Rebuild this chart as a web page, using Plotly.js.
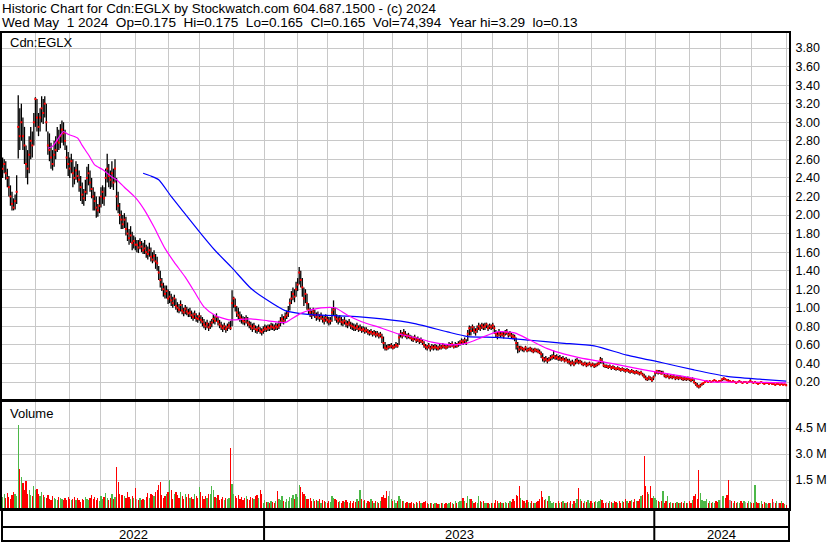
<!DOCTYPE html>
<html><head><meta charset="utf-8">
<script src="https://cdn.plot.ly/plotly-3.0.1.min.js"></script>
<style>html,body{margin:0;padding:0;background:#fff}#chart{width:830px;height:543px}</style>
</head><body><div id="chart"></div>
<script>
// Trading days per month: May 2022 .. May 2024
const monthDays = [21,22,20,22,21,20,22,20, 21,19,23,19,22,22,20,22,20,21,22,19, 22,20,20,22,1];
const yearLabels = ['2022','2023','2024'];
const yearMonthCounts = [8,12,5];

const high = [
2.62,2.60,2.58,2.50,2.42,2.32,2.25,2.18,2.22,2.43,
3.29,3.15,3.20,3.05,2.95,2.75,2.70,2.85,2.95,2.90,
3.10,3.27,3.25,3.10,3.15,3.28,3.25,3.28,3.20,2.90,
2.88,2.78,2.70,2.80,2.85,2.95,2.92,2.98,3.02,3.00,
2.92,2.75,2.68,2.62,2.66,2.60,2.52,2.58,2.55,2.48,
2.42,2.35,2.28,2.38,2.52,2.55,2.48,2.40,2.30,2.25,
2.20,2.12,2.20,2.30,2.32,2.30,2.50,2.66,2.55,2.48,
2.58,2.50,2.60,2.40,2.25,2.13,2.05,2.00,2.02,1.98,
1.92,1.85,1.88,1.82,1.78,1.76,1.73,1.73,1.75,1.72,
1.70,1.73,1.68,1.66,1.70,1.65,1.60,1.62,1.58,1.55,
1.45,1.40,1.32,1.27,1.24,1.24,1.20,1.18,1.15,1.12,
1.14,1.10,1.06,1.04,1.08,1.04,1.00,1.03,1.01,0.99,
1.00,0.97,0.95,0.97,0.94,0.92,0.95,0.92,0.90,0.88,
0.85,0.87,0.84,0.86,0.88,0.93,0.91,0.94,0.90,0.87,
0.85,0.82,0.84,0.81,0.83,0.85,0.86,1.19,1.12,1.10,
1.02,1.00,0.96,0.93,0.91,0.90,0.92,0.90,0.86,0.85,
0.83,0.84,0.81,0.80,0.82,0.79,0.78,0.80,0.82,0.81,
0.82,0.82,0.84,0.83,0.82,0.84,0.83,0.86,0.90,0.93,
0.91,0.95,0.97,1.02,1.10,1.18,1.22,1.20,1.28,1.32,
1.44,1.40,1.32,1.22,1.20,1.15,1.05,1.00,0.97,1.00,
0.98,0.95,0.96,0.93,0.95,0.92,0.91,0.93,0.91,0.90,
0.90,1.00,1.08,1.00,0.93,0.91,0.92,0.90,0.88,0.90,
0.87,0.86,0.88,0.85,0.84,0.83,0.82,0.84,0.81,0.82,
0.80,0.80,0.79,0.79,0.77,0.76,0.77,0.75,0.76,0.75,
0.75,0.73,0.74,0.72,0.69,0.63,0.60,0.61,0.61,0.62,
0.60,0.61,0.63,0.62,0.72,0.76,0.74,0.77,0.75,0.72,
0.73,0.71,0.70,0.69,0.71,0.68,0.69,0.67,0.68,0.66,
0.64,0.61,0.60,0.62,0.59,0.61,0.60,0.61,0.60,0.59,
0.61,0.60,0.62,0.61,0.60,0.61,0.63,0.62,0.64,0.61,
0.63,0.62,0.64,0.65,0.67,0.66,0.68,0.66,0.76,0.81,
0.80,0.82,0.80,0.78,0.81,0.84,0.82,0.84,0.83,0.84,
0.84,0.82,0.83,0.82,0.84,0.81,0.76,0.74,0.77,0.74,
0.75,0.74,0.76,0.77,0.74,0.75,0.73,0.72,0.71,0.68,
0.63,0.59,0.59,0.58,0.57,0.59,0.57,0.57,0.58,0.57,
0.56,0.57,0.56,0.56,0.55,0.53,0.51,0.47,0.48,0.46,
0.47,0.49,0.50,0.54,0.49,0.50,0.48,0.49,0.47,0.48,
0.46,0.47,0.45,0.45,0.43,0.44,0.42,0.45,0.46,0.44,
0.44,0.43,0.41,0.42,0.41,0.41,0.42,0.40,0.41,0.40,
0.40,0.41,0.42,0.47,0.46,0.42,0.39,0.39,0.38,0.39,
0.37,0.38,0.37,0.36,0.37,0.36,0.35,0.36,0.35,0.34,
0.35,0.34,0.33,0.34,0.33,0.32,0.33,0.32,0.31,0.32,
0.30,0.29,0.27,0.25,0.27,0.26,0.25,0.27,0.31,0.33,
0.33,0.33,0.32,0.32,0.29,0.28,0.29,0.27,0.28,0.27,
0.28,0.26,0.27,0.26,0.27,0.26,0.25,0.26,0.25,0.26,
0.25,0.24,0.25,0.23,0.20,0.19,0.17,0.18,0.19,0.20,
0.21,0.22,0.21,0.22,0.21,0.22,0.23,0.22,0.21,0.22,
0.22,0.24,0.25,0.24,0.23,0.23,0.22,0.21,0.22,0.21,
0.20,0.21,0.22,0.21,0.20,0.21,0.21,0.20,0.21,0.23,
0.21,0.20,0.21,0.20,0.19,0.20,0.21,0.20,0.19,0.20,
0.20,0.19,0.20,0.19,0.19,0.18,0.19,0.19,0.18,0.19,
0.18,0.18,0.175];

const low = [
2.40,2.45,2.38,2.30,2.20,2.10,2.05,2.05,2.06,2.12,
2.61,2.70,2.80,2.70,2.55,2.40,2.33,2.45,2.60,2.62,
2.75,2.95,2.90,2.85,2.90,3.00,2.98,3.05,2.90,2.65,
2.58,2.50,2.48,2.52,2.60,2.68,2.70,2.72,2.78,2.75,
2.70,2.50,2.42,2.40,2.45,2.30,2.33,2.38,2.35,2.25,
2.15,2.12,2.10,2.15,2.22,2.32,2.25,2.18,2.05,2.05,
1.97,1.98,2.02,2.08,2.12,2.10,2.20,2.35,2.30,2.28,
2.30,2.27,2.35,2.05,2.02,1.90,1.85,1.85,1.86,1.78,
1.72,1.68,1.70,1.62,1.64,1.62,1.60,1.59,1.63,1.60,
1.58,1.58,1.54,1.52,1.55,1.50,1.48,1.50,1.42,1.40,
1.30,1.22,1.18,1.12,1.10,1.10,1.04,1.05,1.02,1.00,
1.02,0.98,0.95,0.94,0.96,0.93,0.91,0.93,0.92,0.90,
0.90,0.88,0.86,0.88,0.85,0.84,0.86,0.83,0.80,0.78,
0.76,0.78,0.75,0.77,0.79,0.83,0.82,0.85,0.81,0.78,
0.76,0.74,0.76,0.73,0.75,0.77,0.76,0.80,1.00,0.96,
0.90,0.87,0.85,0.83,0.82,0.81,0.83,0.80,0.78,0.76,
0.74,0.76,0.73,0.72,0.74,0.72,0.70,0.72,0.74,0.74,
0.75,0.75,0.76,0.76,0.75,0.76,0.76,0.77,0.80,0.83,
0.82,0.85,0.88,0.90,0.97,1.04,1.08,1.06,1.12,1.18,
1.25,1.22,1.12,1.02,1.05,0.98,0.93,0.90,0.88,0.91,
0.89,0.86,0.87,0.85,0.87,0.84,0.82,0.85,0.83,0.81,
0.82,0.85,0.92,0.86,0.84,0.82,0.84,0.81,0.80,0.82,
0.79,0.78,0.80,0.77,0.76,0.75,0.75,0.76,0.74,0.75,
0.73,0.74,0.72,0.73,0.71,0.70,0.71,0.69,0.70,0.68,
0.69,0.67,0.68,0.62,0.56,0.54,0.54,0.55,0.56,0.56,
0.55,0.56,0.57,0.57,0.60,0.68,0.67,0.69,0.68,0.66,
0.67,0.66,0.64,0.63,0.65,0.62,0.63,0.61,0.62,0.60,
0.57,0.55,0.54,0.56,0.53,0.55,0.54,0.55,0.54,0.54,
0.55,0.55,0.56,0.56,0.55,0.56,0.57,0.57,0.58,0.56,
0.57,0.57,0.58,0.59,0.61,0.60,0.62,0.60,0.64,0.70,
0.70,0.74,0.72,0.70,0.73,0.76,0.75,0.77,0.76,0.76,
0.78,0.75,0.77,0.76,0.77,0.72,0.68,0.66,0.69,0.68,
0.69,0.67,0.70,0.71,0.68,0.69,0.67,0.66,0.64,0.55,
0.51,0.52,0.54,0.53,0.52,0.54,0.52,0.53,0.53,0.52,
0.51,0.52,0.52,0.51,0.50,0.46,0.42,0.41,0.42,0.40,
0.42,0.43,0.44,0.45,0.44,0.44,0.43,0.43,0.42,0.43,
0.41,0.42,0.40,0.39,0.37,0.39,0.37,0.39,0.40,0.39,
0.40,0.38,0.37,0.38,0.36,0.37,0.38,0.36,0.37,0.35,
0.36,0.37,0.38,0.40,0.40,0.36,0.35,0.35,0.34,0.35,
0.33,0.34,0.33,0.32,0.33,0.32,0.31,0.32,0.31,0.30,
0.31,0.30,0.29,0.30,0.29,0.28,0.29,0.28,0.27,0.28,
0.26,0.24,0.22,0.21,0.22,0.22,0.20,0.22,0.26,0.29,
0.28,0.29,0.28,0.28,0.25,0.24,0.25,0.23,0.24,0.23,
0.24,0.22,0.23,0.22,0.23,0.22,0.21,0.22,0.21,0.22,
0.21,0.20,0.21,0.18,0.16,0.14,0.13,0.14,0.16,0.17,
0.19,0.20,0.19,0.20,0.19,0.20,0.21,0.20,0.19,0.20,
0.20,0.21,0.22,0.22,0.21,0.21,0.20,0.19,0.20,0.19,
0.18,0.19,0.20,0.19,0.18,0.19,0.19,0.18,0.19,0.20,
0.19,0.18,0.19,0.18,0.17,0.18,0.19,0.18,0.17,0.18,
0.18,0.17,0.18,0.17,0.17,0.16,0.17,0.17,0.165,0.17,
0.165,0.17,0.165];

const close = [
2.50,2.55,2.45,2.40,2.30,2.20,2.12,2.08,2.15,2.25,
2.95,2.85,3.00,2.85,2.75,2.55,2.50,2.65,2.80,2.75,
3.00,3.25,3.05,2.95,3.05,3.15,3.10,3.20,3.00,2.75,
2.70,2.62,2.55,2.65,2.70,2.80,2.78,2.85,2.92,2.88,
2.80,2.62,2.55,2.50,2.58,2.45,2.40,2.48,2.42,2.38,
2.30,2.22,2.18,2.25,2.40,2.45,2.35,2.28,2.20,2.15,
2.08,2.05,2.10,2.20,2.25,2.18,2.40,2.50,2.42,2.38,
2.45,2.35,2.50,2.20,2.10,2.00,1.95,1.90,1.95,1.85,
1.80,1.75,1.78,1.70,1.72,1.68,1.68,1.65,1.70,1.66,
1.62,1.64,1.60,1.58,1.62,1.55,1.52,1.56,1.50,1.48,
1.38,1.30,1.25,1.20,1.15,1.18,1.10,1.12,1.08,1.05,
1.10,1.02,1.00,0.98,1.03,0.97,0.95,0.99,0.96,0.94,
0.95,0.92,0.90,0.93,0.89,0.88,0.91,0.87,0.85,0.82,
0.80,0.83,0.79,0.81,0.84,0.88,0.86,0.90,0.85,0.82,
0.80,0.78,0.80,0.77,0.79,0.81,0.78,1.05,1.10,1.02,
0.95,0.92,0.90,0.88,0.86,0.85,0.88,0.84,0.82,0.80,
0.78,0.80,0.77,0.76,0.78,0.75,0.74,0.76,0.78,0.77,
0.79,0.78,0.80,0.79,0.78,0.80,0.79,0.81,0.85,0.88,
0.86,0.90,0.92,0.95,1.05,1.10,1.15,1.12,1.20,1.25,
1.38,1.30,1.22,1.10,1.15,1.05,0.98,0.95,0.92,0.96,
0.93,0.90,0.92,0.89,0.91,0.88,0.86,0.89,0.87,0.85,
0.86,0.95,0.98,0.90,0.88,0.86,0.88,0.85,0.84,0.86,
0.83,0.82,0.84,0.81,0.80,0.79,0.78,0.80,0.77,0.78,
0.76,0.77,0.75,0.76,0.74,0.73,0.74,0.72,0.73,0.71,
0.72,0.70,0.71,0.68,0.62,0.57,0.56,0.58,0.58,0.59,
0.57,0.58,0.60,0.59,0.68,0.72,0.70,0.73,0.71,0.69,
0.70,0.68,0.67,0.66,0.68,0.65,0.66,0.64,0.65,0.63,
0.60,0.58,0.57,0.59,0.56,0.58,0.57,0.58,0.57,0.56,
0.58,0.57,0.59,0.58,0.57,0.58,0.60,0.59,0.61,0.58,
0.60,0.59,0.61,0.62,0.64,0.63,0.65,0.62,0.72,0.78,
0.75,0.79,0.76,0.74,0.77,0.80,0.78,0.81,0.79,0.80,
0.82,0.78,0.80,0.79,0.81,0.78,0.72,0.70,0.73,0.71,
0.72,0.70,0.73,0.74,0.71,0.72,0.70,0.69,0.68,0.62,
0.58,0.55,0.57,0.56,0.55,0.57,0.54,0.55,0.56,0.54,
0.53,0.55,0.54,0.53,0.52,0.50,0.46,0.44,0.45,0.43,
0.44,0.46,0.47,0.48,0.46,0.47,0.45,0.46,0.44,0.45,
0.43,0.44,0.42,0.42,0.40,0.41,0.39,0.42,0.43,0.41,
0.42,0.40,0.39,0.40,0.38,0.39,0.40,0.38,0.39,0.37,
0.38,0.39,0.40,0.44,0.42,0.38,0.37,0.37,0.36,0.37,
0.35,0.36,0.35,0.34,0.35,0.34,0.33,0.34,0.33,0.32,
0.33,0.32,0.31,0.32,0.31,0.30,0.31,0.30,0.29,0.30,
0.28,0.26,0.24,0.23,0.25,0.24,0.22,0.25,0.30,0.32,
0.30,0.31,0.29,0.30,0.27,0.26,0.27,0.25,0.26,0.25,
0.26,0.24,0.25,0.24,0.25,0.24,0.23,0.24,0.23,0.24,
0.23,0.22,0.23,0.20,0.18,0.16,0.15,0.16,0.18,0.19,
0.20,0.21,0.20,0.21,0.20,0.21,0.22,0.21,0.20,0.21,
0.21,0.23,0.24,0.23,0.22,0.21,0.21,0.20,0.21,0.20,
0.19,0.20,0.21,0.20,0.19,0.20,0.20,0.19,0.20,0.21,
0.20,0.19,0.20,0.19,0.18,0.19,0.20,0.19,0.18,0.19,
0.19,0.18,0.19,0.18,0.18,0.17,0.18,0.18,0.17,0.18,
0.17,0.175,0.165];

// Volume in thousands of shares
const volume = [
520,700,480,760,520,420,620,800,700,600,
4670,2130,1670,1330,950,1440,700,920,650,560,
1150,900,980,700,600,780,620,500,450,650,
420,360,560,480,380,340,520,440,380,350,
480,320,500,420,360,400,520,370,480,320,
240,400,330,500,420,340,440,620,380,520,
360,450,280,600,380,520,750,440,370,480,
680,380,520,2250,1380,700,640,650,580,480,
780,500,400,580,440,1040,380,360,480,320,
430,360,520,750,480,720,650,600,780,920,
1210,1380,650,480,560,700,820,1500,900,420,
700,780,620,480,780,560,400,700,500,680,
440,520,380,700,600,480,1100,780,560,380,
600,480,700,720,1150,900,520,480,620,360,
400,520,330,480,380,440,3350,1270,720,580,
480,650,380,520,350,450,600,400,330,500,
480,380,580,650,480,920,700,200,330,230,
220,160,300,240,200,280,860,420,320,560,
300,240,380,280,520,460,620,400,700,540,
1210,1100,820,680,560,400,380,460,300,420,
260,340,280,420,200,360,300,240,180,260,
220,600,480,380,320,240,300,180,260,220,
340,240,200,300,180,260,220,380,300,900,
420,260,340,200,300,240,420,260,180,300,
220,180,300,520,640,480,860,580,880,380,
260,340,200,280,560,420,300,260,180,220,
200,160,240,180,120,220,150,280,200,160,
240,290,180,120,200,150,100,160,180,130,
110,150,200,130,180,120,160,220,180,140,
260,180,220,300,260,440,300,200,560,400,
380,260,180,220,160,580,300,220,260,180,
200,160,120,150,200,180,320,260,180,220,
150,180,220,160,200,300,240,380,300,640,
560,1150,480,360,260,200,320,240,180,280,
200,160,240,300,380,870,500,360,420,260,
580,300,200,240,160,200,260,180,220,300,
160,180,240,200,300,140,260,180,380,1040,
420,260,180,300,240,360,200,260,180,220,
300,220,260,400,320,200,160,240,180,280,
220,160,300,240,180,260,200,300,240,420,
280,200,300,360,240,420,300,260,380,560,
620,2900,1150,780,680,1150,480,600,460,320,
260,220,300,870,200,260,600,180,240,160,
200,150,220,180,160,240,180,300,200,160,
260,200,350,560,700,420,2080,760,340,300,
260,400,200,300,160,240,180,300,220,360,
340,560,600,480,620,1500,320,260,200,280,
180,220,160,260,200,300,240,180,260,220,
160,200,1210,240,160,200,300,140,240,160,
120,200,180,420,240,160,300,200,180,260,
180,120,74];

// Moving averages (trading-day index, value)
const maFastIdx = [29,32,37,39,42,48,51,55,59,64,70,73,78,85,91,97,104,110,117,123,129,136,145,159,170,181,185,191,198,204,213,221,230,243,253,264,275,289,298,307,317,328,338,349,360,370,390,411,422,443,454,473,502];
const maFastVal = [2.72,2.74,2.86,2.90,2.87,2.83,2.75,2.65,2.54,2.49,2.41,2.38,2.30,2.19,2.05,1.87,1.64,1.49,1.33,1.17,1.01,0.92,0.87,0.88,0.86,0.84,0.88,0.94,0.98,1.00,1.00,0.92,0.85,0.78,0.72,0.68,0.63,0.60,0.62,0.68,0.74,0.73,0.65,0.56,0.50,0.46,0.40,0.33,0.30,0.24,0.20,0.20,0.19];
const maSlowIdx = [90,95,100,108,116,127,136,147,159,168,181,190,204,221,243,264,285,298,317,338,358,379,400,422,443,464,485,502];
const maSlowVal = [2.45,2.42,2.38,2.20,2.03,1.80,1.62,1.43,1.21,1.10,0.97,0.94,0.92,0.91,0.88,0.83,0.74,0.69,0.68,0.65,0.62,0.59,0.49,0.41,0.33,0.26,0.23,0.21];

const header1 = 'Historic Chart for Cdn:EGLX by Stockwatch.com 604.687.1500 - (c) 2024';
const header2 = 'Wed May  1 2024  Op=0.175  Hi=0.175  Lo=0.165  Cl=0.165  Vol=74,394  Year hi=3.29  lo=0.13';

// ---- build ----
const N = close.length;
const idx = close.map((_, i) => i);
const monthStarts = [];
let acc = 0;
monthDays.forEach(d => { monthStarts.push(acc); acc += d; });
const yearBounds = [];
let m = 0;
yearMonthCounts.forEach(c => { yearBounds.push(monthStarts[m]); m += c; });

const xMin = -0.4, xMax = 503.8;

const hlX = [], hlY = [];
for (let i = 0; i < N; i++) { hlX.push(i, i, null); hlY.push(low[i], high[i], null); }

const volColors = close.map((c, i) => {
  if (i === 0) return '#4cb848';
  if (c > close[i - 1]) return '#4cb848';
  if (c < close[i - 1]) return '#ff0000';
  return '#a8a8a8';
});
const volBase = -173;
const volLen = volume.map(v => v - volBase);

const traces = [
  {type: 'bar', x: idx, y: volLen, base: volBase, width: 0.8, marker: {color: volColors, line: {width: 0}}, xaxis: 'x2', yaxis: 'y2', hoverinfo: 'skip'},
  {type: 'scatter', mode: 'lines', x: hlX, y: hlY, line: {color: '#000', width: 1.3}, connectgaps: false, xaxis: 'x', yaxis: 'y', hoverinfo: 'skip'},
  {type: 'scatter', mode: 'markers', x: idx, y: close, marker: {symbol: 'square', size: 2, color: '#ff0000', line: {width: 0}}, xaxis: 'x', yaxis: 'y', hoverinfo: 'skip'},
  {type: 'scatter', mode: 'lines', x: maSlowIdx, y: maSlowVal, line: {color: '#0000ff', width: 1.2, shape: 'spline', smoothing: 0.6}, xaxis: 'x', yaxis: 'y', hoverinfo: 'skip'},
  {type: 'scatter', mode: 'lines', x: maFastIdx, y: maFastVal, line: {color: '#ff00ff', width: 1.2, shape: 'spline', smoothing: 0.6}, xaxis: 'x', yaxis: 'y', hoverinfo: 'skip'}
];

// paper y fractions (plot area 33..541 px)
const PH = 508;
const py = px => (541 - px) / PH;

const shapes = [
  {type: 'rect', xref: 'paper', yref: 'paper', x0: 0, x1: 1, y0: 0, y1: py(509), line: {color: '#000', width: 2}},
  {type: 'line', xref: 'paper', yref: 'paper', x0: 0, x1: 1, y0: py(527), y1: py(527), line: {color: '#000', width: 2}}
];
yearBounds.slice(1).forEach(b => {
  shapes.push({type: 'line', xref: 'x', yref: 'paper', x0: b - 0.5, x1: b - 0.5, y0: 0, y1: py(509), line: {color: '#000', width: 2}});
});

const annotations = [
  {text: header1, xref: 'paper', yref: 'paper', x: -0.003, y: py(8), xanchor: 'left', yanchor: 'middle', showarrow: false, font: {size: 13.4}},
  {text: header2.replace(/  /g, ' \u00a0'), xref: 'paper', yref: 'paper', x: -0.003, y: py(22), xanchor: 'left', yanchor: 'middle', showarrow: false, font: {size: 13.6}},
  {text: 'Cdn:EGLX', xref: 'paper', yref: 'paper', x: 0.007, y: py(43), xanchor: 'left', yanchor: 'middle', showarrow: false, font: {size: 13}},
  {text: 'Volume', xref: 'paper', yref: 'paper', x: 0.007, y: py(413), xanchor: 'left', yanchor: 'middle', showarrow: false, font: {size: 13}}
];
const segs = yearBounds.map((b, i) => [b - 0.5, i + 1 < yearBounds.length ? yearBounds[i + 1] - 0.5 : xMax]);
segs[0][0] = xMin;
yearLabels.forEach((t, i) => {
  annotations.push({text: t, xref: 'x', yref: 'paper', x: (segs[i][0] + segs[i][1]) / 2, y: py(534), xanchor: 'center', yanchor: 'middle', showarrow: false, font: {size: 13}});
});

const gridC = '#c8c8c8';
const layout = {
  width: 830, height: 543,
  margin: {l: 2, r: 41, t: 33, b: 2, pad: 0},
  paper_bgcolor: '#fff', plot_bgcolor: '#fff',
  showlegend: false, hovermode: false,
  font: {family: '"Liberation Sans", Arial, sans-serif', size: 12, color: '#000'},
  bargap: 0,
  xaxis: {domain: [0, 1], range: [xMin, xMax], anchor: 'y', tickvals: monthStarts, showticklabels: false, ticks: '',
          showgrid: true, gridcolor: gridC, gridwidth: 1, showline: true, linecolor: '#000', linewidth: 2, mirror: true, zeroline: false},
  yaxis: {domain: [py(399), 1], range: [0.0168, 3.962], side: 'right', anchor: 'x', dtick: 0.2, tick0: 0, tickformat: '.2f', ticks: '',
          ticklabelstandoff: 2, showgrid: true, gridcolor: gridC, gridwidth: 1, showline: true, linecolor: '#000', linewidth: 2, mirror: true, zeroline: false,
          tickfont: {size: 12.5, color: '#000'}},
  xaxis2: {domain: [0, 1], range: [xMin, xMax], anchor: 'y2', tickvals: monthStarts, showticklabels: false, ticks: '',
           showgrid: true, gridcolor: gridC, gridwidth: 1, showline: true, linecolor: '#000', linewidth: 2, mirror: true, zeroline: false},
  yaxis2: {domain: [py(509), py(402)], range: [volBase, 6000], side: 'right', anchor: 'x2', tickvals: [1500, 3000, 4500], ticktext: ['1.5 M', '3.0 M', '4.5 M'], ticks: '',
           ticklabelstandoff: 2, showgrid: true, gridcolor: gridC, gridwidth: 1, showline: true, linecolor: '#000', linewidth: 2, mirror: true, zeroline: false,
           tickfont: {size: 12.5, color: '#000'}},
  shapes: shapes,
  annotations: annotations
};

Plotly.newPlot('chart', traces, layout, {staticPlot: true, displayModeBar: false});
</script></body></html>
